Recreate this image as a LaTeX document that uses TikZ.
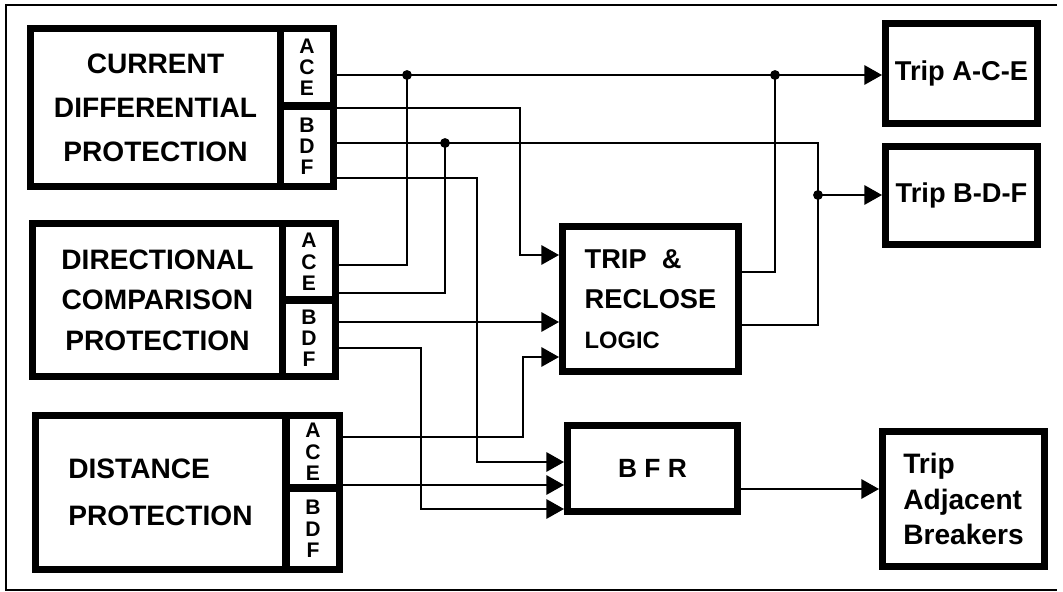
\documentclass[tikz,border=0pt]{standalone}
\usepackage{fontspec}
\setmainfont{Liberation Sans}
\usetikzlibrary{arrows.meta}

\begin{document}
\begin{tikzpicture}[x=0.02cm, y=-0.02cm,
  panel/.style={draw, line width=4pt, inner sep=0pt, anchor=north west,
    font=\bfseries\fontsize{16}{25}\selectfont, align=center},
  side/.style={draw, line width=4pt, inner sep=0pt, minimum width=1.06cm,
    font=\bfseries\fontsize{12}{12.2}\selectfont, align=center},
  sig/.style={line width=1.1pt},
  arr/.style={sig, -{Triangle[length=10pt,width=11pt]}}]

\useasboundingbox (0,0) rectangle (1063,592);

% Frame
\draw[line width=1.3pt] (1057,5) -- (6,5) -- (6,590) -- (1057,590);

% Current differential protection
\node[panel, minimum width=5cm, minimum height=3.16cm] (cdp) at (27,25)
  {CURRENT\\DIFFERENTIAL\\PROTECTION};
\node[side, anchor=north east, minimum height=1.55cm] (cdpace) at (337,25) {A\\C\\E};
\node[side, anchor=south east, minimum height=1.61cm] (cdpbdf) at (337,190) {B\\D\\F};

% Directional comparison protection
\node[panel, minimum width=5cm, minimum height=3.06cm,
  font=\bfseries\fontsize{16}{23}\selectfont] (dcp) at (29,220)
  {DIRECTIONAL\\COMPARISON\\PROTECTION};
\node[side, anchor=north east, minimum height=1.53cm] (dcpace) at (339,220) {A\\C\\E};
\node[side, anchor=south east, minimum height=1.53cm] (dcpbdf) at (339,380) {B\\D\\F};

% Distance protection
\node[panel, minimum width=5cm, minimum height=3.08cm, align=left,
  font=\bfseries\fontsize{16}{26.6}\selectfont] (dp) at (32,412)
  {DISTANCE\\PROTECTION};
\node[side, anchor=north east, minimum height=1.45cm] (dpace) at (343,412) {A\\C\\E};
\node[side, anchor=south east, minimum height=1.63cm] (dpbdf) at (343,573) {B\\D\\F};

% Logic
\node[panel, minimum width=3.52cm, minimum height=2.9cm, align=left,
  font=\bfseries\fontsize{15.5}{22.7}\selectfont] (tr) at (559,223)
  {TRIP\ \ \&\\RECLOSE\\{\fontsize{13.5}{22.7}\selectfont LOGIC}};
\node[panel, minimum width=3.4cm, minimum height=1.72cm,
  font=\bfseries\fontsize{15}{20}\selectfont] (bfr) at (564,422) {B F R};

% Trip outputs
\node[panel, minimum width=3.04cm, minimum height=2cm,
  font=\bfseries\fontsize{15.5}{20}\selectfont] (tace) at (882,20) {Trip A-C-E};
\node[panel, minimum width=3.04cm, minimum height=1.96cm,
  font=\bfseries\fontsize{15.5}{20}\selectfont] (tbdf) at (882,143) {Trip B-D-F};
\node[panel, minimum width=3.24cm, minimum height=2.7cm, align=left,
  font=\bfseries\fontsize{16}{20.4}\selectfont] (tadj) at (879,428)
  {Trip\\Adjacent\\Breakers};

% Junctions
\coordinate (j1) at (407,75);
\coordinate (j2) at (445,143);
\coordinate (j3) at (775,75);
\coordinate (j4) at (818,195);

% Signals from current differential
\draw[arr] (j1 -| cdpace.east) -- (j3 -| tace.west);
\draw[arr] (cdpbdf.east |- 0,108) -| (520,255) -- (tr.west |- 0,255);
\draw[sig] (j2 -| cdpbdf.east) -| (818,325) -- (tr.east |- 0,325);
\draw[arr] (j4) -- (j4 -| tbdf.west);
\draw[arr] (cdpbdf.east |- 0,178) -| (477,462) -- (bfr.west |- 0,462);

% Signals from directional comparison
\draw[sig] (j1) |- (dcpace.east |- 0,265);
\draw[sig] (j2) |- (dcpace.east |- 0,293);
\draw[arr] (dcpbdf.east |- 0,322) -- (tr.west |- 0,322);
\draw[arr] (dcpbdf.east |- 0,348) -| (421,509) -- (bfr.west |- 0,509);

% Signals from distance
\draw[arr] (dpace.east |- 0,437) -| (523,357) -- (tr.west |- 0,357);
\draw[arr] (dpace.east |- 0,485) -- (bfr.west |- 0,485);

% Outputs
\draw[sig] (tr.east |- 0,272) -| (j3);
\draw[arr] (bfr.east |- 0,489) -- (tadj.west |- 0,489);

% Dots
\foreach \j in {j1,j2,j3,j4} \fill (\j) circle (2.8pt);

\end{tikzpicture}
\end{document}
